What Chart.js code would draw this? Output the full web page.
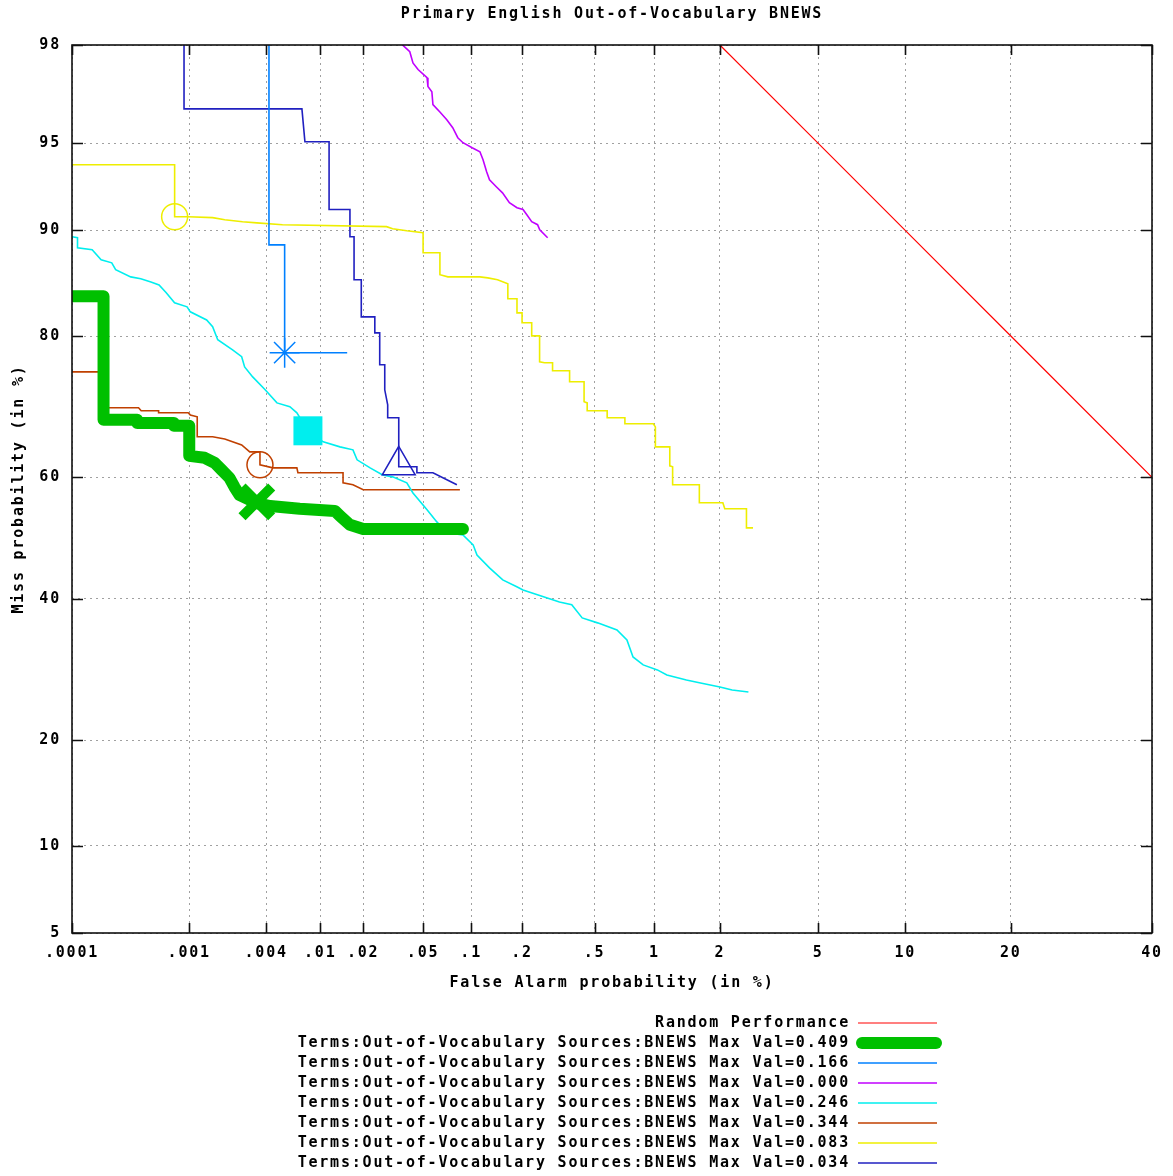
<!DOCTYPE html>
<html><head><meta charset="utf-8">
<script src="https://cdn.jsdelivr.net/npm/chart.js@4.4.1/dist/chart.umd.min.js"></script>
<style>html,body{margin:0;padding:0;background:#fff;overflow:hidden}</style>
</head><body>
<canvas id="c" width="1173" height="1176" style="display:block;width:1173px;height:1176px"></canvas>
<script>
// ---------- text ----------
const titleText = 'Primary English Out-of-Vocabulary BNEWS';
const xAxisTitle = 'False Alarm probability (in %)';
const yAxisTitle = 'Miss probability (in %)';

// ---------- ticks (percent) ----------
const xTickValues = [0.0001, 0.001, 0.004, 0.01, 0.02, 0.05, 0.1, 0.2, 0.5, 1, 2, 5, 10, 20, 40];
const xTickLabels = ['.0001', '.001', '.004', '.01', '.02', '.05', '.1', '.2', '.5', '1', '2', '5', '10', '20', '40'];
const yTickValues = [5, 10, 20, 40, 60, 80, 90, 95, 98];
const yTickLabels = ['5', '10', '20', '40', '60', '80', '90', '95', '98'];

// ---------- series labels ----------
const seriesLabels = [
  'Random Performance',
  'Terms:Out-of-Vocabulary Sources:BNEWS Max Val=0.409',
  'Terms:Out-of-Vocabulary Sources:BNEWS Max Val=0.166',
  'Terms:Out-of-Vocabulary Sources:BNEWS Max Val=0.000',
  'Terms:Out-of-Vocabulary Sources:BNEWS Max Val=0.246',
  'Terms:Out-of-Vocabulary Sources:BNEWS Max Val=0.344',
  'Terms:Out-of-Vocabulary Sources:BNEWS Max Val=0.083',
  'Terms:Out-of-Vocabulary Sources:BNEWS Max Val=0.034'
];

// ---------- data: [false alarm %, miss %] ----------
const randomPerf = [[2, 98], [5, 95], [10, 90], [20, 80], [40, 60]];

const ov409 = [[0.0001,84.3],[0.00019,84.3],[0.00019,68.9],[0.00037,68.9],[0.00037,68.4],[0.00075,68.4],[0.00075,68.0],[0.001,68.0],[0.001,63.4],[0.00133,63.1],[0.0016,62.3],[0.00181,61.2],[0.00209,59.9],[0.00229,58.4],[0.00251,57.1],[0.00289,56.5],[0.0034,55.8],[0.00428,55.3],[0.0071,54.85],[0.0127,54.5],[0.0138,53.7],[0.0162,52.2],[0.02,51.5],[0.0891,51.5]];
const ov409Mark = [0.0034, 56.0];

const ov166 = [[0.0042,99.5],[0.0042,88.9],[0.0055,88.9],[0.0055,78.0],[0.0155,78.0]];
const ov166Mark = [0.0055, 78.0];

const ov000 = [[0.035,98.2],[0.0368,98.0],[0.041,97.86],[0.043,97.61],[0.0464,97.45],[0.053,97.24],[0.0537,97.0],[0.0569,96.85],[0.0578,96.45],[0.064,96.2],[0.0707,95.93],[0.077,95.63],[0.0828,95.23],[0.0891,95.02],[0.1014,94.8],[0.113,94.62],[0.118,94.25],[0.124,93.65],[0.129,93.22],[0.142,92.82],[0.154,92.48],[0.169,91.88],[0.187,91.56],[0.2025,91.44],[0.213,91.1],[0.227,90.62],[0.245,90.41],[0.252,90.04],[0.279,89.45]];

const ov246 = [[0.0001,89.53],[0.000112,89.45],[0.000112,88.67],[0.000151,88.51],[0.000181,87.68],[0.000224,87.42],[0.000242,86.82],[0.000326,86.17],[0.000397,86.0],[0.000483,85.7],[0.000565,85.42],[0.000648,84.66],[0.000759,83.65],[0.00096,83.23],[0.00102,82.7],[0.00138,81.82],[0.00154,81.06],[0.00169,79.56],[0.00221,78.35],[0.0026,77.5],[0.00274,76.2],[0.00316,74.9],[0.00393,73.16],[0.00482,71.33],[0.00601,70.78],[0.00677,69.91],[0.00815,67.25],[0.0105,65.58],[0.0138,64.8],[0.017,64.34],[0.01815,62.78],[0.0223,61.5],[0.0271,60.37],[0.0316,60.06],[0.0392,59.1],[0.043,57.46],[0.053,54.68],[0.0612,52.69],[0.0707,50.88],[0.0891,50.52],[0.1028,48.88],[0.1085,47.2],[0.129,45.07],[0.1545,43.09],[0.1865,41.96],[0.2025,41.45],[0.275,40.17],[0.324,39.5],[0.378,39.05],[0.43,36.98],[0.518,36.2],[0.652,35.1],[0.732,33.58],[0.785,31.03],[0.881,29.87],[1.032,29.15],[1.146,28.43],[1.414,27.73],[1.62,27.33],[2.0,26.76],[2.26,26.35],[2.65,26.08]];
const ov246Mark = [0.00815, 67.25];

const ov344 = [[0.0001,75.56],[0.00019,75.56],[0.00019,70.63],[0.00038,70.63],[0.0004,70.2],[0.00056,70.2],[0.00056,69.91],[0.00098,69.91],[0.00102,69.6],[0.00116,69.32],[0.00116,66.35],[0.00154,66.35],[0.00192,66.02],[0.0026,65.1],[0.003,64.02],[0.00359,64.02],[0.00359,61.98],[0.0045,61.5],[0.00677,61.5],[0.00689,60.72],[0.0145,60.72],[0.0145,59.1],[0.017,58.78],[0.02,57.97],[0.0853,57.97]];
const ov344Mark = [0.00359, 61.98];

const ov083 = [[0.0001,94.0],[0.00076,94.0],[0.00076,90.96],[0.00098,90.96],[0.00154,90.9],[0.00192,90.76],[0.00264,90.62],[0.0034,90.54],[0.0053,90.41],[0.0288,90.27],[0.0316,90.12],[0.0392,89.97],[0.05,89.83],[0.05,88.27],[0.064,88.27],[0.064,86.37],[0.0718,86.17],[0.113,86.17],[0.126,86.08],[0.144,85.91],[0.1655,85.52],[0.1655,84.06],[0.187,84.06],[0.187,82.59],[0.2,82.59],[0.2,81.51],[0.227,81.51],[0.227,80.02],[0.2515,80.02],[0.2515,76.85],[0.268,76.73],[0.297,76.73],[0.297,75.7],[0.368,75.7],[0.368,74.25],[0.44,74.25],[0.44,71.49],[0.457,71.33],[0.457,70.2],[0.581,70.2],[0.581,69.18],[0.715,69.18],[0.715,68.3],[0.987,68.3],[1.01,67.83],[1.01,64.8],[1.183,64.8],[1.183,61.83],[1.22,61.68],[1.22,58.78],[1.62,58.78],[1.62,55.84],[2.06,55.84],[2.1,54.85],[2.6,54.85],[2.6,51.7],[2.77,51.7]];
const ov083Mark = [0.00076, 90.96];

const ov034 = [[0.000907,99.5],[0.000907,96.31],[0.00737,96.31],[0.00775,95.06],[0.01156,95.06],[0.01156,91.44],[0.0162,91.44],[0.0162,89.53],[0.0173,89.53],[0.0173,85.91],[0.0194,85.91],[0.0194,82.16],[0.024,82.16],[0.024,80.37],[0.0259,80.37],[0.0259,76.48],[0.028,76.48],[0.028,73.16],[0.0293,71.06],[0.0293,69.18],[0.0347,69.18],[0.0347,61.68],[0.0456,61.68],[0.0456,60.72],[0.0578,60.72],[0.0817,58.78]];
const ov034Mark = [0.0347, 61.9];

// ---------- styles ----------
const seriesColors = ['#ff0000', '#00c000', '#0080ff', '#c000ff', '#00eeee', '#c04000', '#eeee00', '#2020c0'];
const seriesWidths = [1.2, 12, 1.6, 1.6, 1.6, 1.6, 1.6, 1.6];
const FONT_FAMILY = '"DejaVu Sans Mono", "Liberation Mono", monospace';
const FONT_SIZE = 15;
const LS = '1.8px';

// inverse normal CDF (Acklam)
function probit(p) {
  const a=[-3.969683028665376e+01,2.209460984245205e+02,-2.759285104469687e+02,1.383577518672690e+02,-3.066479806614716e+01,2.506628277459239e+00];
  const b=[-5.447609879822406e+01,1.615858368580409e+02,-1.556989798598866e+02,6.680131188771972e+01,-1.328068155288572e+01];
  const c=[-7.784894002430293e-03,-3.223964580411365e-01,-2.400758277161838e+00,-2.549671348464791e+00,4.374664141464968e+00,2.938163982698783e+00];
  const d=[7.784695709041462e-03,3.224671290700398e-01,2.445134137142996e+00,3.754408661907416e+00];
  const pl = 0.02425, ph = 1 - pl;
  let q, r;
  if (p < pl) { q = Math.sqrt(-2*Math.log(p)); return (((((c[0]*q+c[1])*q+c[2])*q+c[3])*q+c[4])*q+c[5])/((((d[0]*q+d[1])*q+d[2])*q+d[3])*q+1); }
  if (p <= ph) { q = p - 0.5; r = q*q; return (((((a[0]*r+a[1])*r+a[2])*r+a[3])*r+a[4])*r+a[5])*q/(((((b[0]*r+b[1])*r+b[2])*r+b[3])*r+b[4])*r+1); }
  q = Math.sqrt(-2*Math.log(1-p)); return -(((((c[0]*q+c[1])*q+c[2])*q+c[3])*q+c[4])*q+c[5])/((((d[0]*q+d[1])*q+d[2])*q+d[3])*q+1);
}
const mk = arr => arr.map(([fa, miss]) => ({ x: probit(fa / 100), y: probit(miss / 100) }));

const curves = [randomPerf, ov409, ov166, ov000, ov246, ov344, ov083, ov034];
const datasets = curves.map((c, i) => ({
  type: 'line', label: seriesLabels[i], data: mk(c),
  borderColor: seriesColors[i], borderWidth: seriesWidths[i],
  pointRadius: 0, tension: 0, fill: false,
  borderCapStyle: i === 1 ? 'round' : 'butt', borderJoinStyle: i === 1 ? 'round' : 'miter',
  order: i === 1 ? 1 : 2
}));

const markers = [
  { pt: ov409Mark, color: seriesColors[1], style: 'crossRot', r: 21, w: 10, fill: 'transparent' },
  { pt: ov166Mark, color: seriesColors[2], style: 'star', r: 15, w: 1.5, fill: 'transparent' },
  { pt: ov246Mark, color: seriesColors[4], style: 'rect', r: 20.5, w: 0, fill: seriesColors[4] },
  { pt: ov344Mark, color: seriesColors[5], style: 'circle', r: 13, w: 1.5, fill: 'transparent' },
  { pt: ov083Mark, color: seriesColors[6], style: 'circle', r: 13, w: 1.5, fill: 'transparent' },
  { pt: ov034Mark, color: seriesColors[7], style: 'triangle', r: 19, w: 1.5, fill: 'transparent' }
];
markers.forEach(m => datasets.push({
  type: 'scatter', label: '', data: mk([m.pt]), showLine: false,
  pointStyle: m.style, pointRadius: m.r, pointBorderWidth: m.w,
  pointBorderColor: m.color, pointBackgroundColor: m.fill, order: 0
}));

const decor = {
  id: 'decor',
  beforeDraw(chart) { chart.ctx.letterSpacing = LS; },
  afterDraw(chart) {
    const { ctx, chartArea: a, scales: { x, y } } = chart;
    ctx.save();
    ctx.letterSpacing = LS;
    ctx.strokeStyle = '#101010'; ctx.lineWidth = 1.6;
    ctx.strokeRect(a.left, a.top, a.right - a.left, a.bottom - a.top);
    ctx.beginPath();
    x.ticks.forEach(t => {
      const px = Math.round(x.getPixelForValue(t.value)) + 0.5;
      ctx.moveTo(px, a.bottom); ctx.lineTo(px, a.bottom - 10);
      ctx.moveTo(px, a.top); ctx.lineTo(px, a.top + 10);
    });
    y.ticks.forEach(t => {
      const py = Math.round(y.getPixelForValue(t.value)) + 0.5;
      ctx.moveTo(a.left, py); ctx.lineTo(a.left + 11, py);
      ctx.moveTo(a.right, py); ctx.lineTo(a.right - 11, py);
    });
    ctx.stroke();

    ctx.fillStyle = '#000';
    ctx.font = 'bold ' + FONT_SIZE + 'px ' + FONT_FAMILY;
    ctx.textAlign = 'center'; ctx.textBaseline = 'middle';
    const cx = (a.left + a.right) / 2;
    ctx.fillText(titleText, cx, 14);
    ctx.fillText(xAxisTitle, cx, 983);
    ctx.save();
    ctx.translate(19, (a.top + a.bottom) / 2);
    ctx.rotate(-Math.PI / 2);
    ctx.fillText(yAxisTitle, 0, 0);
    ctx.restore();

    // legend
    ctx.textAlign = 'right';
    seriesLabels.forEach((lab, i) => {
      const yy = 1023 + i * 20;
      ctx.fillStyle = '#000';
      ctx.fillText(lab, 850, yy);
      ctx.beginPath();
      ctx.strokeStyle = seriesColors[i];
      ctx.lineWidth = seriesWidths[i];
      ctx.lineCap = i === 1 ? 'round' : 'butt';
      ctx.moveTo(i === 1 ? 862 : 858, yy); ctx.lineTo(i === 1 ? 936 : 937, yy);
      ctx.stroke();
    });
    ctx.restore();
  }
};

const tickFont = { family: FONT_FAMILY, size: FONT_SIZE, weight: 'bold' };
new Chart(document.getElementById('c'), {
  data: { datasets },
  options: {
    responsive: false, animation: false, devicePixelRatio: 1, events: [],
    layout: { autoPadding: false, padding: { top: 45, right: 21, bottom: 0, left: 0 } },
    plugins: { legend: { display: false }, tooltip: { enabled: false }, title: { display: false } },
    scales: {
      x: {
        type: 'linear', position: 'bottom',
        min: probit(xTickValues[0] / 100), max: probit(xTickValues[xTickValues.length - 1] / 100),
        afterBuildTicks: s => { s.ticks = xTickValues.map(v => ({ value: probit(v / 100) })); },
        afterFit: s => { s.height = 243; s.paddingLeft = 0; s.paddingRight = 0; },
        ticks: { autoSkip: false, maxRotation: 0, minRotation: 0, color: '#000', font: tickFont, padding: 11,
                 callback: (v, i) => xTickLabels[i] },
        grid: { color: '#a0a0a0', lineWidth: 1, drawTicks: false },
        border: { display: false, dash: [2, 4] }
      },
      y: {
        type: 'linear', position: 'left',
        min: probit(yTickValues[0] / 100), max: probit(yTickValues[yTickValues.length - 1] / 100),
        afterBuildTicks: s => { s.ticks = yTickValues.map(v => ({ value: probit(v / 100) })); },
        afterFit: s => { s.width = 72; s.paddingTop = 0; s.paddingBottom = 0; },
        ticks: { autoSkip: false, color: '#000', font: tickFont, padding: 11,
                 callback: (v, i) => yTickLabels[i] },
        grid: { color: '#a0a0a0', lineWidth: 1, drawTicks: false },
        border: { display: false, dash: [2, 4] }
      }
    }
  },
  plugins: [decor]
});
</script>
</body></html>
